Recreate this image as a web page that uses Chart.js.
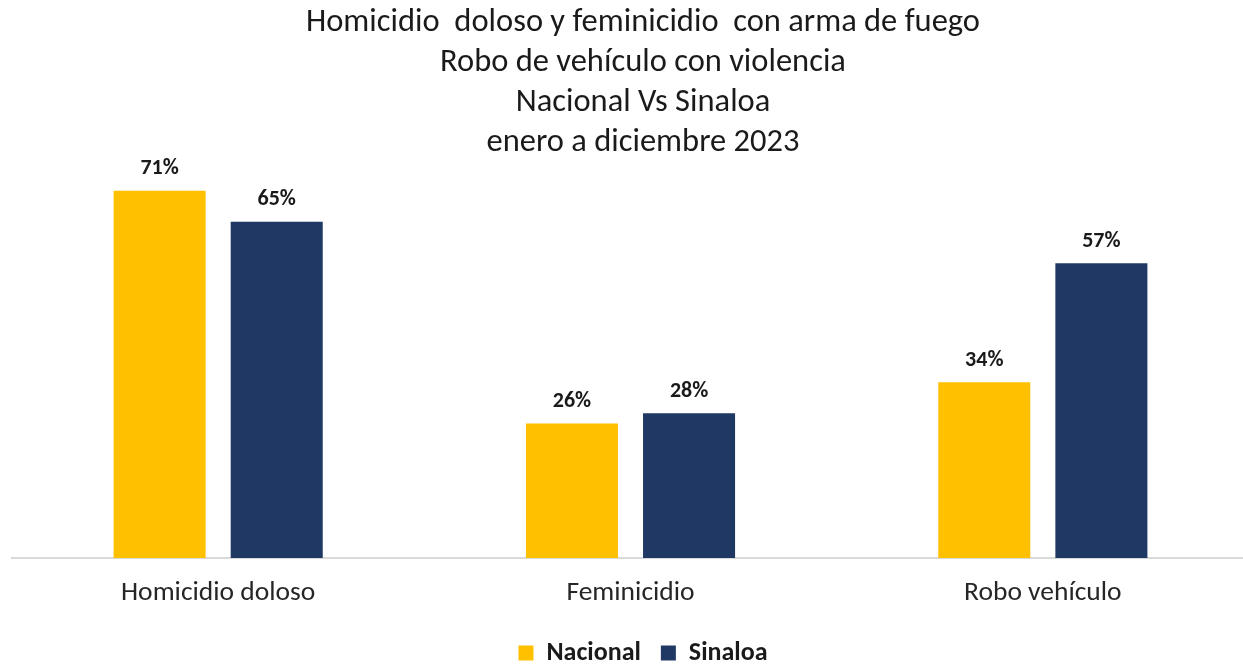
<!DOCTYPE html>
<html>
<head>
<meta charset="utf-8">
<script src="https://cdn.jsdelivr.net/npm/chart.js@4"></script>
<style>
html,body{margin:0;padding:0;background:#fff;overflow:hidden}
#wrap{width:1274px;height:666px}
</style>
</head>
<body>
<div id="wrap"><canvas id="chart"></canvas></div>
<script>

const categories=["Homicidio doloso","Feminicidio","Robo vehículo"]
const nacional=[71,26,34]
const sinaloa=[65,28,57]
const titleLines=["Homicidio  doloso y feminicidio  con arma de fuego","Robo de vehículo con violencia","Nacional Vs Sinaloa","enero a diciembre 2023"]

const fontFam="Carlito, Lato, 'Open Sans', sans-serif"

// writes the percentage over each bar
const barLabels={
id:"barLabels",
afterDatasetsDraw(chart){
const ctx=chart.ctx
ctx.save()
ctx.font="bold 22px "+fontFam
ctx.fillStyle="#1a1a1a"
ctx.textAlign="center"
ctx.textBaseline="bottom"
chart.data.datasets.forEach((ds,i)=>{
chart.getDatasetMeta(i).data.forEach((bar,j)=>{
ctx.fillText(ds.data[j]+"%",bar.x,bar.y-11)
})
})
ctx.restore()
}
}

// legend box gets a fixed height so it sits close to the bottom edge
const legendHeight={
id:"legendHeight",
beforeLayout(chart){
const lg=chart.legend
if(!lg||lg._patched) return
const fit=lg.fit
lg.fit=function(){
fit.call(this)
this.height=46
}
lg._patched=true
}
}

new Chart(document.getElementById("chart"),{
type:"bar",
data:{
labels:categories,
datasets:[
{label:"Nacional",data:nacional,backgroundColor:"#ffc000"},
{label:"Sinaloa",data:sinaloa,backgroundColor:"#203864"}
]
},
options:{
responsive:true,
maintainAspectRatio:false,
animation:false,
layout:{padding:{left:12,right:0,top:0,bottom:0}},
datasets:{bar:{categoryPercentage:0.568,barPercentage:0.786}},
scales:{
x:{
grid:{display:false},
border:{color:"#d9d9d9",width:2},
ticks:{color:"#262626",padding:10.5,font:{family:fontFam,size:27.5,lineHeight:1.2}}
},
y:{
// kept on the right, blank, so the plot stops short of the title/legend width
position:"right",
min:0,
max:76.2,
grid:{display:false},
border:{display:false},
ticks:{display:false},
afterFit(scale){scale.width=25}
}
},
plugins:{
title:{
display:true,
text:titleLines,
color:"#1a1a1a",
font:{family:fontFam,size:32.5,weight:"normal",lineHeight:1.23},
padding:{top:3,bottom:1}
},
legend:{
position:"bottom",
labels:{
boxWidth:15,
boxHeight:15,
color:"#1a1a1a",
padding:20,
font:{family:fontFam,size:26,weight:"bold"}
}
},
tooltip:{enabled:false}
}
},
plugins:[barLabels,legendHeight]
})

</script>
</body>
</html>
